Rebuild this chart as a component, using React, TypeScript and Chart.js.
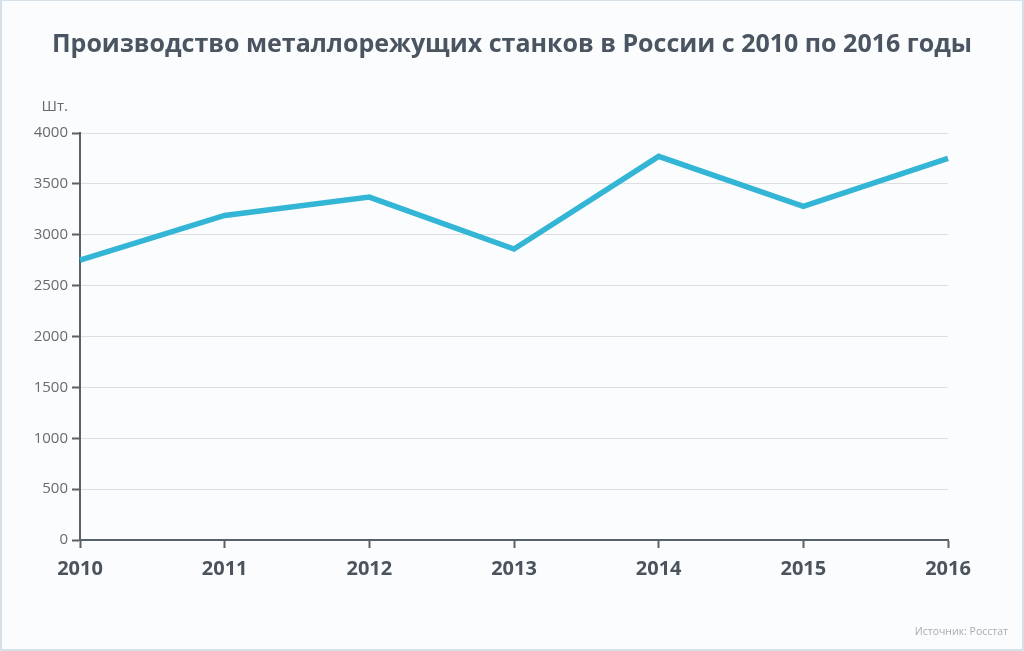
import React, { useEffect, useRef } from "react";
import { Chart, registerables } from "chart.js";

Chart.register(...registerables);

const years = ["2010", "2011", "2012", "2013", "2014", "2015", "2016"];
const production = [2750, 3190, 3370, 2860, 3770, 3280, 3750];
const titleText = "Производство металлорежущих станков в России с 2010 по 2016 годы";
const unitText = "Шт.";
const sourceText = "Источник: Росстат";

const decor = {
  id: "decor",
  beforeDraw(chart: any) {
    const { ctx, width, height } = chart;
    ctx.save();
    ctx.fillStyle = "#fbfcfd";
    ctx.fillRect(0, 0, width, height);
    ctx.restore();
  },
  afterDraw(chart: any) {
    const { ctx, width, height, chartArea } = chart;
    ctx.save();
    ctx.fillStyle = "#4a5561";
    ctx.font = "bold 25px 'Open Sans'";
    ctx.textAlign = "center";
    ctx.textBaseline = "middle";
    ctx.fillText(titleText, 512, 45);
    ctx.fillStyle = "#666b70";
    ctx.font = "15px 'Open Sans'";
    ctx.textAlign = "right";
    ctx.fillText(unitText, chartArea.left - 12, 107);
    ctx.fillStyle = "#a9adb1";
    ctx.font = "10.5px 'Open Sans'";
    ctx.textAlign = "right";
    ctx.fillText(sourceText, 1008, 632);
    ctx.strokeStyle = "#d5e0e8";
    ctx.lineWidth = 2;
    ctx.strokeRect(1, 0, width - 2, height - 1);
    ctx.restore();
  },
};

export default function App() {
  const ref = useRef<HTMLCanvasElement>(null);
  useEffect(() => {
    document.body.style.margin = "0";
    const chart = new Chart(ref.current!, {
      type: "line",
      data: {
        labels: years,
        datasets: [
          {
            data: production,
            borderColor: "#33b5d5",
            borderWidth: 5.5,
            pointRadius: 0,
            tension: 0,
            fill: false,
          },
        ],
      },
      options: {
        animation: false,
        responsive: false,
        layout: { padding: { top: 133, right: 76, left: 0, bottom: 0 } },
        plugins: { legend: { display: false }, tooltip: { enabled: false } },
        scales: {
          x: {
            offset: false,
            grid: {
              display: true,
              drawOnChartArea: false,
              tickLength: 8,
              tickColor: "#5a6068",
              tickWidth: 2,
            },
            border: { color: "#5a6068", width: 2 },
            ticks: {
              color: "#4b535c",
              font: { family: "'Open Sans'", size: 20, weight: "bold" },
              padding: 9,
              maxRotation: 0,
              autoSkip: false,
            },
            afterFit(scale: any) {
              scale.height = 111;
            },
          },
          y: {
            min: 0,
            max: 4000,
            ticks: {
              stepSize: 500,
              color: "#666b70",
              font: { family: "'Open Sans'", size: 15 },
              padding: 4,
              callback: (v: any) => String(v),
            },
            grid: {
              color: "#dcdee0",
              lineWidth: 1,
              tickLength: 8,
              tickColor: "#5a6068",
              tickWidth: 2,
            },
            border: { color: "#5a6068", width: 2 },
            afterFit(scale: any) {
              scale.width = 80;
            },
          },
        },
      },
      plugins: [decor],
    });
    return () => chart.destroy();
  }, []);
  return (
    <div style={{ width: 1024, height: 651 }}>
      <canvas ref={ref} width={1024} height={651} style={{ display: "block" }} />
    </div>
  );
}
